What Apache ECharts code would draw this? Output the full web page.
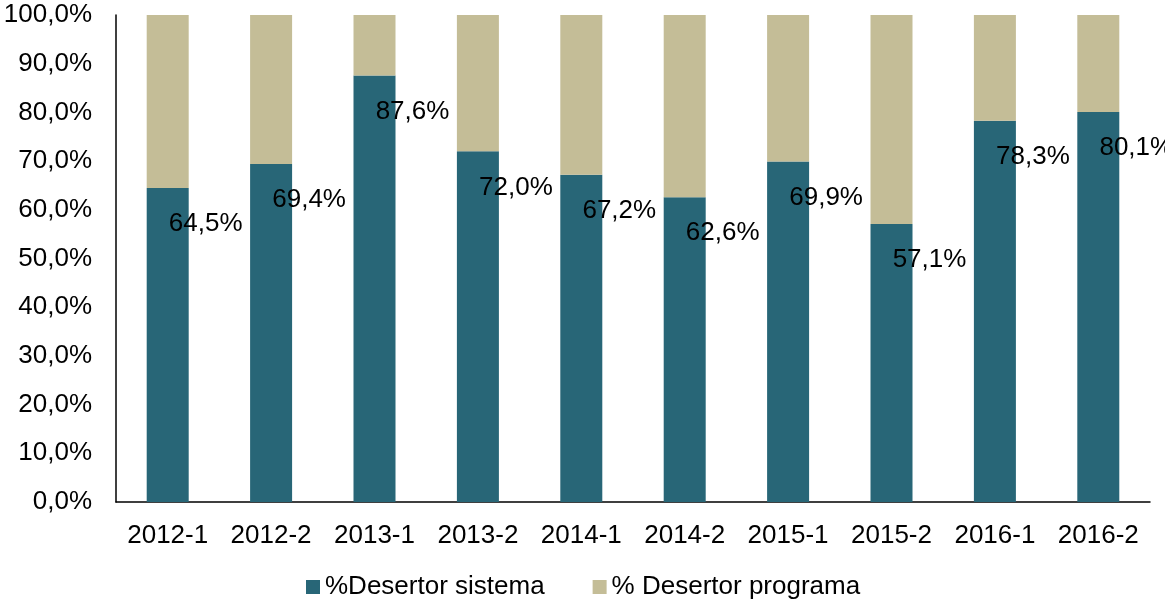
<!DOCTYPE html>
<html>
<head>
<meta charset="utf-8">
<script src="https://cdn.jsdelivr.net/npm/echarts@6/dist/echarts.min.js"></script>
<style>
  html, body { margin: 0; padding: 0; background: #fff; }
  #chart { width: 1165px; height: 605px; }
</style>
</head>
<body>
<div id="chart"></div>
<script>
var periodos = ["2012-1", "2012-2", "2013-1", "2013-2", "2014-1", "2014-2", "2015-1", "2015-2", "2016-1", "2016-2"];
var desertorSistema = [64.5, 69.4, 87.6, 72.0, 67.2, 62.6, 69.9, 57.1, 78.3, 80.1];
var desertorPrograma = [35.5, 30.6, 12.4, 28.0, 32.8, 37.4, 30.1, 42.9, 21.7, 19.9];

function pct(v) {
  return v.toFixed(1).replace(".", ",") + "%";
}

var chart = echarts.init(document.getElementById("chart"));
chart.setOption({
  animation: false,
  textStyle: { fontFamily: "Liberation Sans, Arial, sans-serif", color: "#000" },
  grid: { left: 116, right: 15, top: 15, bottom: 103 },
  legend: {
    bottom: 0,
    left: 301,
    itemWidth: 14,
    itemHeight: 14,
    itemGap: 48,
    icon: "rect",
    textStyle: { fontSize: 26, color: "#000" },
    data: ["%Desertor sistema", "% Desertor programa"]
  },
  xAxis: {
    type: "category",
    data: periodos,
    axisLine: { lineStyle: { color: "#000", width: 1.5 } },
    axisTick: { show: false },
    axisLabel: { fontSize: 26, color: "#000", margin: 21, interval: 0 }
  },
  yAxis: {
    type: "value",
    min: 0,
    max: 100,
    interval: 10,
    axisLine: { show: true, lineStyle: { color: "#000", width: 1.5 } },
    axisTick: { show: false },
    splitLine: { show: false },
    axisLabel: { fontSize: 26, color: "#000", margin: 24, formatter: pct }
  },
  series: [
    {
      name: "%Desertor sistema",
      type: "bar",
      stack: "total",
      barWidth: 42,
      data: desertorSistema,
      itemStyle: { color: "#286677" },
      label: {
        show: true,
        position: ["50%", 0],
        align: "center",
        verticalAlign: "middle",
        offset: [38, 36],
        fontSize: 26,
        color: "#000",
        formatter: function (p) { return pct(p.value); }
      }
    },
    {
      name: "% Desertor programa",
      type: "bar",
      stack: "total",
      barWidth: 42,
      data: desertorPrograma,
      itemStyle: { color: "#c4bd97" }
    }
  ]
});
</script>
</body>
</html>
